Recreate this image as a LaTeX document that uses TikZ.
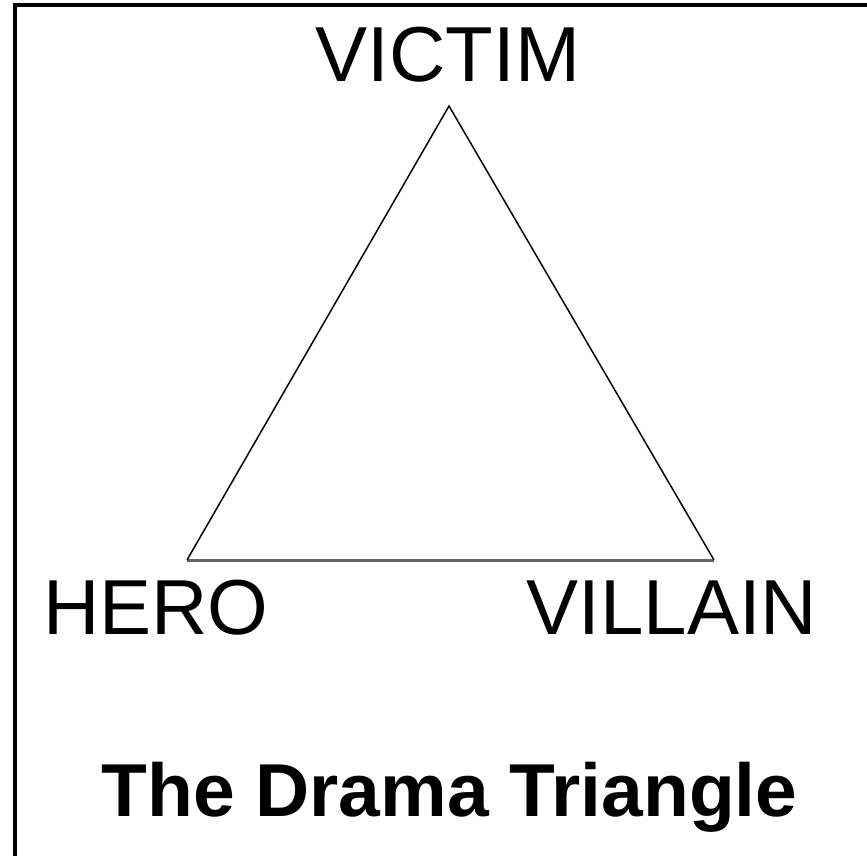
\documentclass[tikz,border=0pt]{standalone}
\usepackage{fontspec}
\setmainfont{Liberation Sans}
\begin{document}
\begin{tikzpicture}[x=1pt,y=-1pt,
  lbl/.style={anchor=base,inner sep=0pt,font=\fontsize{78}{80}\selectfont},
  ttl/.style={anchor=base,inner sep=0pt,font=\fontsize{75}{78}\selectfont\bfseries},
  side/.style={draw=black,line width=1.5pt},
  basel/.style={draw=black!60,line width=3pt},
  frame/.style={draw=black,line width=4pt}]
\useasboundingbox[fill=white] (0,0) rectangle (867,856);
% frame (left and top edges only)
\coordinate (f1) at (15,856);
\coordinate (f2) at (15,5);
\coordinate (f3) at (867,5);
\draw[frame] (f1) -- (f2) -- (f3);
% triangle
\coordinate (A) at (449,106);
\coordinate (B) at (187,560);
\coordinate (C) at (714,560);
\draw[basel] (B) -- (C);
\draw[side] (B) -- (A) -- (C);
% labels
\node[lbl] (victim) at (448,82) {VICTIM};
\node[lbl] (hero) at (156,634) {HERO};
\node[lbl] (villain) at (672,634) {VILLAIN};
\node[ttl] (title) at (449.5,816) {The Drama Triangle};
\end{tikzpicture}
\end{document}
